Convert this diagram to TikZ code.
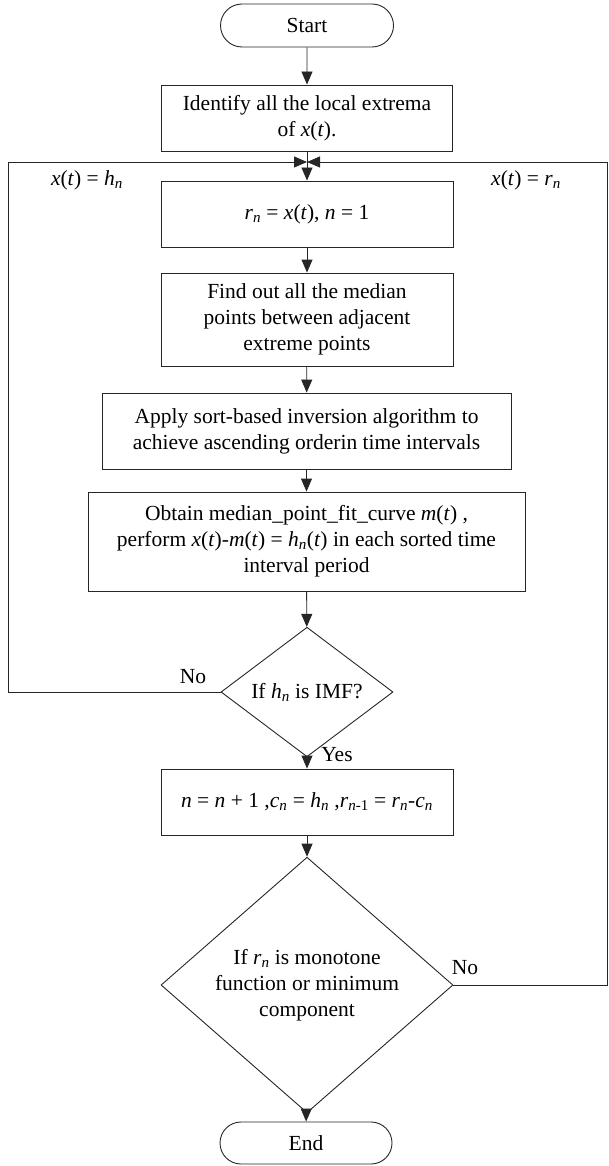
\documentclass[tikz,border=0pt]{standalone}
\usepackage{fontspec}
\setmainfont{Liberation Serif}
\usetikzlibrary{shapes.geometric,shapes.misc,arrows.meta}
\newcommand{\mi}[1]{\textit{#1}}
\newcommand{\sbi}[1]{\textsubscript{\textit{#1}}}
\begin{document}
\begin{tikzpicture}[x=1pt,y=-1pt,line width=0.9pt,font=\fontsize{21.5}{26}\selectfont]
        % Styles
        \tikzstyle{terminal}=[draw=black!85,rounded rectangle,minimum width=173pt,minimum height=43pt,inner sep=0pt]
        \tikzstyle{process}=[draw=black!85,rectangle,minimum height=66pt,align=center,inner sep=0pt]
        \tikzstyle{decision}=[draw=black!85,diamond,align=center,inner sep=0pt]
        \tikzstyle{flow}=[draw=black!85,-{Triangle[length=13pt,width=11pt]}]
        %The graphic
        \useasboundingbox (0,0) rectangle (609,1166);
        %main column
        \node[terminal] (start) at (307,25.5) {Start};
        \node[process,minimum width=291pt] (identify) at (307,118) {Identify all the local extrema\\of \mi{x}(\mi{t}).};
        \node[process,minimum width=292pt] (rn) at (307,214) {\mi{r}\sbi{n} = \mi{x}(\mi{t}), \mi{n} = 1};
        \node[process,minimum width=292pt,minimum height=93pt] (find) at (307,319.5) {Find out all the median\\points between adjacent\\extreme points};
        \node[process,minimum width=409pt,minimum height=76pt] (apply) at (306.5,431) {Apply sort-based inversion algorithm to\\achieve ascending orderin time intervals};
        \node[process,minimum width=437pt,minimum height=99pt] (obtain) at (306.5,541.5) {Obtain median\_point\_fit\_curve \mi{m}(\mi{t}) ,\\perform \mi{x}(\mi{t})-\mi{m}(\mi{t}) = \mi{h}\sbi{n}(\mi{t}) in each sorted time\\interval period};
        \node[decision,minimum width=172pt,minimum height=98pt] (imf) at (307,692) {If \mi{h}\sbi{n} is IMF?};
        \node[process,minimum width=292pt] (update) at (307,802) {\mi{n} = \mi{n} + 1 ,\mi{c}\sbi{n} = \mi{h}\sbi{n} ,\mi{r}\textsubscript{\mi{n}-1} = \mi{r}\sbi{n}-\mi{c}\sbi{n}};
        \node[decision,minimum width=292pt,minimum height=212pt] (monotone) at (307,985) {If \mi{r}\sbi{n} is monotone\\function or minimum\\component};
        \node[terminal,minimum width=172pt,minimum height=42pt] (end) at (306,1143) {End};
        %arrows
        \draw[flow] (start) -- (identify);
        \draw[flow] (identify) -- (rn);
        \draw[flow] (rn) -- (find);
        \draw[flow] (find) -- (apply);
        \draw[flow] (apply) -- (obtain);
        \draw[flow] (obtain) -- (imf);
        \draw[flow] (imf) -- (update);
        \draw[flow] (update) -- (monotone);
        \draw[flow] (monotone) -- (end);
        %loops back
        \coordinate (merge) at (307,162);
        \coordinate (leftrail) at (8,162);
        \coordinate (rightrail) at (607,162);
        \draw[flow] (imf.west) -| (leftrail) -- (merge);
        \draw[flow] (monotone.east) -| (rightrail) -- (merge);
        %labels
        \node (yes) at (337,755) {Yes};
        \node (noimf) at (193,677) {No};
        \node (nomono) at (465,968) {No};
        \node (hlabel) at (87,180) {\mi{x}(\mi{t}) = \mi{h}\sbi{n}};
        \node (rlabel) at (526,180) {\mi{x}(\mi{t}) = \mi{r}\sbi{n}};
\end{tikzpicture}
\end{document}
